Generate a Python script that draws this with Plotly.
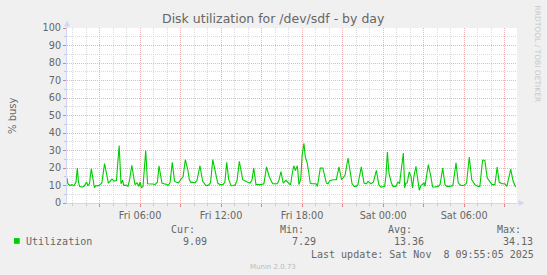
import plotly.graph_objects as go

TITLE = "Disk utilization for /dev/sdf - by day"
Y_LABEL = "% busy"
SERIES_NAME = "Utilization"
SERIES_COLOR = "#00CC00"

# sample times (day HH:MM, Nov 2025) and utilization values (% busy)
times = [
    "07 00:35", "07 00:39", "07 00:48", "07 00:57", "07 01:06", "07 01:15", "07 01:21", "07 01:26",
    "07 01:31", "07 01:42", "07 01:51", "07 02:02", "07 02:08", "07 02:15", "07 02:23", "07 02:30",
    "07 02:37", "07 02:44", "07 02:53", "07 03:02", "07 03:10", "07 03:22", "07 03:30", "07 03:39",
    "07 03:46", "07 03:55", "07 04:04", "07 04:15", "07 04:19", "07 04:27", "07 04:35", "07 04:42",
    "07 04:48", "07 04:57", "07 05:06", "07 05:13", "07 05:23", "07 05:30", "07 05:37", "07 05:46",
    "07 05:55", "07 06:00", "07 06:06", "07 06:13", "07 06:19", "07 06:25", "07 06:33", "07 06:39",
    "07 06:48", "07 06:57", "07 07:06", "07 07:17", "07 07:24", "07 07:31", "07 07:37", "07 07:46",
    "07 07:55", "07 08:04", "07 08:13", "07 08:23", "07 08:33", "07 08:42", "07 08:51", "07 09:02",
    "07 09:11", "07 09:21", "07 09:32", "07 09:39", "07 09:46", "07 09:55", "07 10:04", "07 10:13",
    "07 10:26", "07 10:38", "07 10:53", "07 11:04", "07 11:13", "07 11:23", "07 11:35", "07 11:45",
    "07 11:55", "07 12:08", "07 12:17", "07 12:25", "07 12:34", "07 12:44", "07 12:53", "07 13:02",
    "07 13:11", "07 13:21", "07 13:36", "07 13:46", "07 13:58", "07 14:08", "07 14:17", "07 14:25",
    "07 14:35", "07 14:44", "07 14:57", "07 15:10", "07 15:22", "07 15:34", "07 15:49", "07 15:59",
    "07 16:10", "07 16:17", "07 16:26", "07 16:36", "07 16:48", "07 17:03", "07 17:09", "07 17:15",
    "07 17:23", "07 17:30", "07 17:39", "07 17:46", "07 17:54", "07 18:00", "07 18:08", "07 18:14",
    "07 18:22", "07 18:29", "07 18:36", "07 18:44", "07 18:53", "07 19:02", "07 19:08", "07 19:21",
    "07 19:32", "07 19:41", "07 19:48", "07 19:55", "07 20:03", "07 20:17", "07 20:32", "07 20:44",
    "07 20:55", "07 21:02", "07 21:11", "07 21:24", "07 21:34", "07 21:42", "07 21:51", "07 22:00",
    "07 22:08", "07 22:23", "07 22:35", "07 22:46", "07 22:53", "07 23:06", "07 23:17", "07 23:30",
    "07 23:41", "07 23:51", "08 00:07", "08 00:13", "08 00:19", "08 00:26", "08 00:37", "08 00:44",
    "08 00:57", "08 01:06", "08 01:13", "08 01:22", "08 01:30", "08 01:36", "08 01:41", "08 01:47",
    "08 01:56", "08 02:04", "08 02:11", "08 02:17", "08 02:26", "08 02:32", "08 02:41", "08 02:48",
    "08 03:02", "08 03:06", "08 03:21", "08 03:32", "08 03:40", "08 03:51", "08 04:04", "08 04:13",
    "08 04:25", "08 04:35", "08 04:44", "08 04:57", "08 05:10", "08 05:24", "08 05:34", "08 05:46",
    "08 05:59", "08 06:11", "08 06:23", "08 06:34", "08 06:48", "08 07:01", "08 07:10", "08 07:22",
    "08 07:32", "08 07:43", "08 07:55", "08 08:04", "08 08:17", "08 08:27", "08 08:36", "08 08:48",
    "08 09:01", "08 09:10", "08 09:27", "08 09:38", "08 09:49",
]
values = [
    14.3, 11.0, 10.0, 10.5, 9.8, 12.0, 20.0, 12.0,
    9.5, 9.0, 9.5, 12.0, 10.0, 11.0, 19.6, 15.0,
    8.8, 10.0, 9.8, 10.5, 11.5, 22.5, 16.0, 11.4,
    12.4, 13.7, 12.5, 12.8, 20.0, 32.8, 11.0, 13.0,
    10.0, 10.2, 9.5, 13.0, 21.5, 15.0, 10.5, 11.5,
    9.5, 12.0, 8.6, 9.5, 18.0, 30.0, 11.0, 11.0,
    10.9, 10.9, 10.5, 12.0, 21.3, 17.0, 11.4, 11.0,
    10.8, 10.0, 11.5, 23.2, 12.5, 11.8, 11.5, 13.7,
    15.0, 24.8, 19.0, 13.3, 11.8, 11.8, 11.5, 13.0,
    21.3, 12.4, 9.9, 10.2, 11.5, 24.8, 18.0, 11.4,
    10.5, 10.5, 12.0, 23.2, 13.3, 9.9, 10.0, 10.2,
    13.0, 23.8, 13.3, 12.5, 11.8, 11.4, 13.0, 20.0,
    10.5, 10.5, 10.5, 11.0, 20.6, 15.0, 11.0, 11.0,
    11.0, 13.0, 18.0, 11.4, 13.0, 11.0, 10.5, 16.0,
    21.3, 18.5, 21.3, 10.5, 13.7, 27.2, 34.13, 26.5,
    23.2, 18.0, 11.4, 11.0, 11.2, 11.0, 9.5, 20.0,
    20.0, 14.3, 11.4, 11.0, 12.8, 13.3, 13.3, 20.6,
    13.3, 14.3, 16.0, 25.7, 17.0, 11.0, 9.5, 9.5,
    10.5, 20.6, 11.4, 11.0, 12.4, 11.0, 12.0, 18.7,
    10.5, 9.1, 9.5, 16.0, 29.1, 17.0, 11.4, 9.5,
    9.5, 12.0, 11.0, 20.0, 28.6, 8.6, 11.4, 11.4,
    17.7, 15.2, 8.6, 15.2, 21.0, 15.2, 7.29, 10.0,
    11.4, 9.5, 21.9, 15.2, 9.1, 9.1, 9.5, 10.5,
    20.0, 10.5, 9.5, 9.5, 10.0, 22.9, 11.4, 10.0,
    10.0, 11.4, 26.3, 13.3, 10.5, 9.5, 9.5, 24.4,
    24.4, 14.3, 11.8, 10.5, 10.5, 20.6, 11.8, 11.0,
    11.0, 9.5, 19.4, 12.4, 9.09,
]

x_range = ["2025-11-07 00:35:05", "2025-11-08 09:55:05"]
x_tick_times = [
    "2025-11-07 03:00", "2025-11-07 06:00", "2025-11-07 09:00", "2025-11-07 12:00",
    "2025-11-07 15:00", "2025-11-07 18:00", "2025-11-07 21:00", "2025-11-08 00:00",
    "2025-11-08 03:00", "2025-11-08 06:00", "2025-11-08 09:00",
]
x_tick_labels = ["", "Fri 06:00", "", "Fri 12:00", "", "Fri 18:00", "", "Sat 00:00", "", "Sat 06:00", ""]
y_ticks = [0, 10, 20, 30, 40, 50, 60, 70, 80, 90, 100]

stat_labels = ["Cur:", "Min:", "Avg:", "Max:"]
stat_values = [9.09, 7.29, 13.36, 34.13]
last_update = "Last update: Sat Nov\u00a0\u00a08 09:55:05 2025"
watermark = "Munin 2.0.73"
side_text = "RRDTOOL / TOBI OETIKER"

W, H = 547, 275
ML, MR, MT, MB = 67, 30, 28, 72
PW, PH = W - ML - MR, H - MT - MB


def px(x):
    return (x - ML) / PW


def py(y):
    return (H - MB - y) / PH


FONT_COLOR = "#666666"
AXIS_COLOR = "#CFD6F8"
GRID_COLOR = "#DADADA"
MGRID_COLOR = "#F0B4B4"
SANS = "DejaVu Sans"
MONO = "DejaVu Sans Mono"
DASH = "1px,1px"

fig = go.Figure()
fig.add_trace(go.Scatter(
    x=["2025-11-" + t for t in times], y=values, mode="lines",
    line=dict(color=SERIES_COLOR, width=1.1), name=SERIES_NAME, hoverinfo="skip",
))

fig.update_layout(
    width=W, height=H,
    margin=dict(l=ML, r=MR, t=MT, b=MB, pad=0),
    paper_bgcolor="#F0F0F0", plot_bgcolor="#FFFFFF",
    showlegend=False,
    xaxis=dict(
        type="date", range=x_range,
        tickmode="array", tickvals=x_tick_times, ticktext=x_tick_labels,
        showgrid=True, gridcolor=MGRID_COLOR, griddash=DASH, gridwidth=1,
        ticks="outside", ticklen=3, tickcolor="#E48080", tickwidth=1,
        showline=True, linecolor=AXIS_COLOR, linewidth=1,
        zeroline=False,
        tickfont=dict(family=SANS, size=9.7, color=FONT_COLOR),
        minor=dict(tickmode="linear", tick0="2025-11-07 00:00", dtick=3600000,
                   showgrid=True, gridcolor=GRID_COLOR, griddash=DASH, gridwidth=1,
                   ticks="outside", ticklen=2, tickcolor="#C8C8C8"),
    ),
    yaxis=dict(
        range=[0, 100], tickmode="array", tickvals=y_ticks,
        showgrid=True, gridcolor=MGRID_COLOR, griddash=DASH, gridwidth=1,
        ticks="outside", ticklen=3, tickcolor="#E48080", tickwidth=1,
        showline=True, linecolor=AXIS_COLOR, linewidth=1,
        zeroline=False,
        tickfont=dict(family=SANS, size=9.7, color=FONT_COLOR),
        minor=dict(tickmode="linear", tick0=0, dtick=5,
                   showgrid=True, gridcolor=GRID_COLOR, griddash=DASH, gridwidth=1,
                   ticks="outside", ticklen=2, tickcolor="#C8C8C8"),
    ),
)

ann = []
ann.append(dict(text=TITLE, x=px(W / 2), y=py(18.5), xanchor="center", yanchor="middle",
                font=dict(family=SANS, size=12.5, color=FONT_COLOR)))
ann.append(dict(text=Y_LABEL, x=px(12), y=py(116), xanchor="center", yanchor="middle", textangle=-90,
                font=dict(family=SANS, size=10, color=FONT_COLOR)))
hdr_x = [171, 280, 388, 496.5]
val_x = [183, 292, 394, 503]
for lab, xx in zip(stat_labels, hdr_x):
    ann.append(dict(text=lab, x=px(xx - 2), y=py(229.7), xanchor="left", yanchor="middle",
                    font=dict(family=MONO, size=10, color=FONT_COLOR)))
for v, xx in zip(stat_values, val_x):
    ann.append(dict(text=f"{v:.2f}", x=px(xx - 2), y=py(241.5), xanchor="left", yanchor="middle",
                    font=dict(family=MONO, size=10, color=FONT_COLOR)))
ann.append(dict(text=SERIES_NAME, x=px(26.2 - 2), y=py(241.5), xanchor="left", yanchor="middle",
                font=dict(family=MONO, size=10, color=FONT_COLOR)))
ann.append(dict(text=last_update, x=px(311 - 2), y=py(254), xanchor="left", yanchor="middle",
                font=dict(family=MONO, size=10, color=FONT_COLOR)))
ann.append(dict(text=watermark, x=px(273), y=py(267.3), xanchor="center", yanchor="middle",
                font=dict(family=SANS, size=7, color="#BBBBBB")))
ann.append(dict(text=side_text, x=px(537), y=py(53.5), xanchor="center", yanchor="middle", textangle=90,
                font=dict(family=SANS, size=7.5, color="#C8C8C8")))
for a in ann:
    a.update(xref="paper", yref="paper", showarrow=False)
fig.update_layout(annotations=ann)

shapes = [
    # legend colour box
    dict(type="rect", xref="paper", yref="paper", x0=px(14), x1=px(19.7), y0=py(243.8), y1=py(238.1),
         fillcolor=SERIES_COLOR, line=dict(width=0)),
    # y-axis arrow
    dict(type="path", xref="paper", yref="paper", xsizemode="pixel", ysizemode="pixel",
         xanchor=0, yanchor=1, path="M 0 0 L 0 3", line=dict(color=AXIS_COLOR, width=1)),
    dict(type="path", xref="paper", yref="paper", xsizemode="pixel", ysizemode="pixel",
         xanchor=0, yanchor=1, path="M -2.5 2 L 0 7 L 2.5 2 Z", fillcolor=AXIS_COLOR,
         line=dict(color=AXIS_COLOR, width=0.5)),
    # x-axis arrow
    dict(type="path", xref="paper", yref="paper", xsizemode="pixel", ysizemode="pixel",
         xanchor=1, yanchor=0, path="M 0 0 L 3 0", line=dict(color=AXIS_COLOR, width=1)),
    dict(type="path", xref="paper", yref="paper", xsizemode="pixel", ysizemode="pixel",
         xanchor=1, yanchor=0, path="M 2 -2.5 L 7 0 L 2 2.5 Z", fillcolor=AXIS_COLOR,
         line=dict(color=AXIS_COLOR, width=0.5)),
]
fig.update_layout(shapes=shapes)

fig.write_html("out.html")
